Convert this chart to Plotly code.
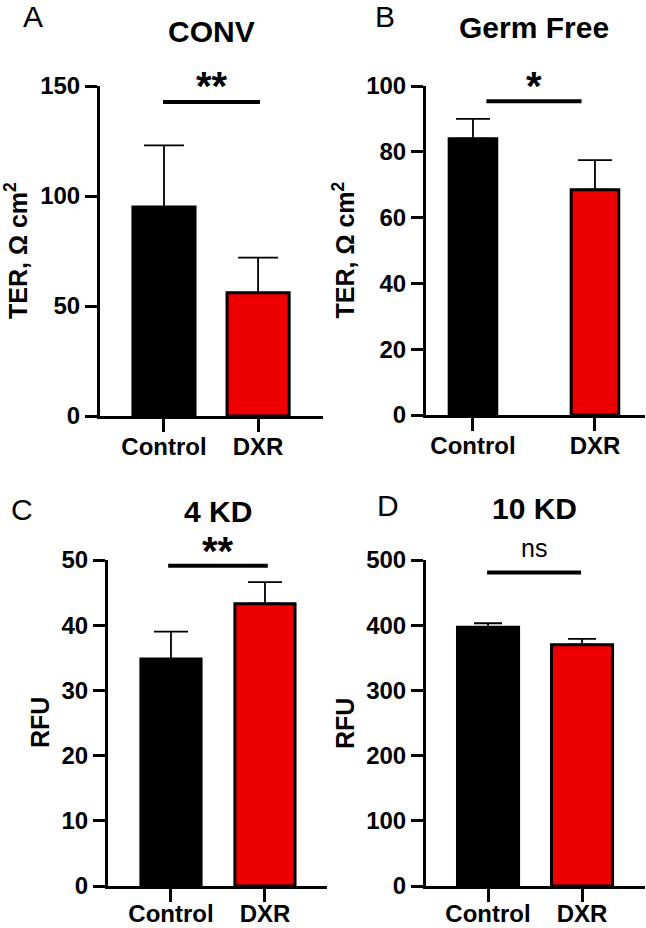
import plotly.graph_objects as go

W, H = 646, 928

groups = ["Control", "DXR"]
bar_colors = ["#000000", "#ee0000"]

conv_mean = [95, 56]
conv_err = [28, 16]

gf_mean = [84, 68.5]
gf_err = [6, 9]

kd4_mean = [34.8, 43.3]
kd4_err = [4.2, 3.3]

kd10_mean = [397, 370]
kd10_err = [6, 9]

sig_labels = ["**", "*", "**", "ns"]
sig_heights = [142.7, 95.4, 49.1, 481]

FONT = "Liberation Sans, Arial, sans-serif"


def px_x(p):
    return p / W


def px_y(p):
    return 1 - p / H


# panel geometry in pixels: axis left/right, axis top/bottom
panels = [
    dict(name="CONV", letter="A", mean=conv_mean, err=conv_err,
         box=(100, 323, 86, 416), xr=[-0.68, 1.69], ymax=150, dtick=50,
         bw=0.66, cap=20, ytitle="TER, Ω cm<sup>2</sup>",
         title_xy=(211, 32), letter_xy=(33, 17), ytitle_x=16,
         sig_x=(-0.01, 1.02), sig_lab_px=78, lab_off=-6),
    dict(name="Germ Free", letter="B", mean=gf_mean, err=gf_err,
         box=(426, 645, 86, 415), xr=[-0.385, 1.41], ymax=100, dtick=20,
         bw=0.39, cap=17, ytitle="TER, Ω cm<sup>2</sup>",
         title_xy=(534, 28), letter_xy=(385, 17), ytitle_x=344,
         sig_x=(0.11, 0.89), sig_lab_px=78, lab_off=-6),
    dict(name="4 KD", letter="C", mean=kd4_mean, err=kd4_err,
         box=(108, 327, 560, 886), xr=[-0.67, 1.66], ymax=50, dtick=10,
         bw=0.64, cap=17, ytitle="RFU",
         title_xy=(218, 511), letter_xy=(22, 510), ytitle_x=40,
         sig_x=(-0.03, 1.03), sig_lab_px=543, lab_off=-9),
    dict(name="10 KD", letter="D", mean=kd10_mean, err=kd10_err,
         box=(426, 645, 560, 886), xr=[-0.66, 1.67], ymax=500, dtick=100,
         bw=0.65, cap=14, ytitle="RFU",
         title_xy=(534, 508), letter_xy=(388, 505), ytitle_x=345,
         sig_x=(-0.01, 0.99), sig_lab_px=548, lab_off=-9),
]

fig = go.Figure()
annotations = []
shapes = []

for i, p in enumerate(panels):
    n = "" if i == 0 else str(i + 1)
    xa, ya = "x" + n, "y" + n
    left, right, top, bottom = p["box"]

    fig.add_trace(go.Bar(
        x=groups, y=p["mean"], xaxis=xa, yaxis=ya, width=p["bw"],
        marker=dict(color=bar_colors, line=dict(color="black", width=3)),
        error_y=dict(type="data", array=p["err"], arrayminus=[0, 0],
                     symmetric=False, color="black", thickness=1.8,
                     width=p["cap"]),
        showlegend=False,
    ))

    axis_common = dict(showline=True, linecolor="black", linewidth=3,
                       ticks="outside", tickcolor="black", tickwidth=3,
                       showgrid=False, zeroline=False, automargin=False,
                       tickfont=dict(family=FONT, size=24, color="black",
                                     weight="bold"))
    fig.update_layout(**{
        "xaxis" + n: dict(domain=[px_x(left), px_x(right)], range=p["xr"],
                          anchor=ya, ticklen=13,
                          ticklabelstandoff=p["lab_off"], **axis_common),
        "yaxis" + n: dict(domain=[px_y(bottom), px_y(top)],
                          range=[0, p["ymax"]], dtick=p["dtick"],
                          anchor=xa, ticklen=12, **axis_common),
    })

    tx, ty = p["title_xy"]
    annotations.append(dict(
        text=p["name"], x=px_x(tx), y=px_y(ty), xref="paper", yref="paper",
        showarrow=False, xanchor="center", yanchor="middle",
        font=dict(family=FONT, size=30, color="black", weight="bold")))
    lx, ly = p["letter_xy"]
    annotations.append(dict(
        text=p["letter"], x=px_x(lx), y=px_y(ly), xref="paper", yref="paper",
        showarrow=False, xanchor="center", yanchor="middle",
        font=dict(family=FONT, size=30, color="black")))
    annotations.append(dict(
        text=p["ytitle"], x=px_x(p["ytitle_x"]), y=px_y((top + bottom) / 2),
        xref="paper", yref="paper", showarrow=False, textangle=-90,
        xanchor="center", yanchor="middle",
        font=dict(family=FONT, size=25, color="black", weight="bold")))

    # significance bar
    shapes.append(dict(type="line", xref=xa, yref=ya,
                       x0=p["sig_x"][0], x1=p["sig_x"][1],
                       y0=sig_heights[i], y1=sig_heights[i],
                       line=dict(color="black", width=4)))
    lab = sig_labels[i]
    is_ns = lab == "ns"
    annotations.append(dict(
        text=lab, x=sum(p["sig_x"]) / 2, y=px_y(p["sig_lab_px"]),
        xref=xa, yref="paper",
        showarrow=False, xanchor="center", yanchor="middle",
        yshift=0 if is_ns else -8,
        font=dict(family=FONT, size=25 if is_ns else 40, color="black",
                  weight="normal" if is_ns else "bold")))

fig.update_layout(
    width=W, height=H,
    margin=dict(l=0, r=0, t=0, b=0),
    paper_bgcolor="white", plot_bgcolor="white",
    annotations=annotations, shapes=shapes,
)

# drop the browser's default body margin so the figure sits at 0,0
fig.write_html("out.html", config={"displayModeBar": False},
               post_script="document.body.style.margin='0';")
